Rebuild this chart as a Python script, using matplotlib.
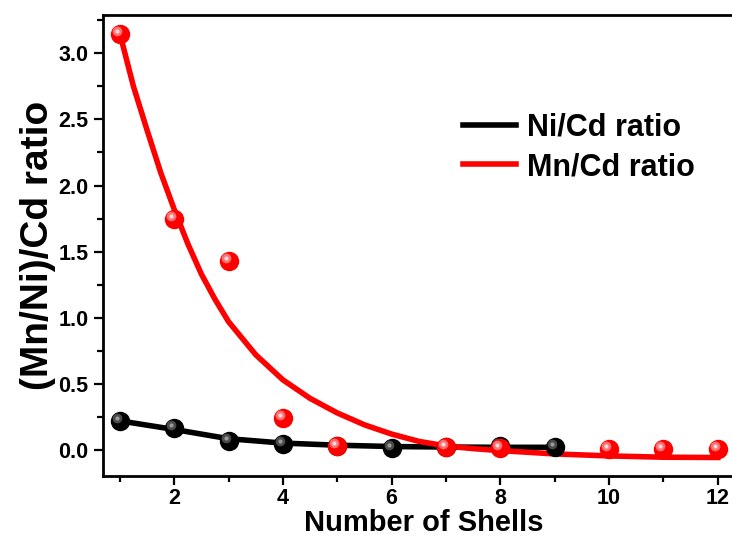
import matplotlib
matplotlib.use('Agg')
import matplotlib.pyplot as plt
from matplotlib.ticker import MultipleLocator, FormatStrFormatter
from matplotlib.transforms import offset_copy

plt.rcParams['font.family'] = ['Liberation Sans', 'DejaVu Sans']
plt.rcParams['font.weight'] = 'bold'

# measured points
shells_ni = [1, 2, 3, 4, 5, 6, 7, 8, 9]
ratio_ni = [0.22, 0.165, 0.07, 0.045, 0.03, 0.015, 0.02, 0.03, 0.02]
shells_mn = [1, 2, 3, 4, 5, 7, 8, 10, 11, 12]
ratio_mn = [3.15, 1.75, 1.43, 0.24, 0.03, 0.02, 0.015, 0.01, 0.005, 0.005]

# fitted curves
fit_x_ni = [1, 2, 3, 4, 5, 6, 7, 8, 9]
fit_y_ni = [0.22, 0.155, 0.085, 0.052, 0.036, 0.026, 0.022, 0.02, 0.02]
fit_x_mn = [1.0, 1.25, 1.5, 1.75, 2.0, 2.25, 2.5, 2.75, 3.0, 3.5, 4.0, 4.5, 5.0,
            5.5, 6.0, 6.5, 7.0, 7.5, 8.0, 9.0, 10.0, 11.0, 12.0]
fit_y_mn = [3.15, 2.75, 2.42, 2.1, 1.82, 1.56, 1.33, 1.14, 0.97, 0.72, 0.53,
            0.39, 0.28, 0.19, 0.12, 0.065, 0.03, 0.01, -0.005, -0.03, -0.045,
            -0.055, -0.057]

fig = plt.figure(figsize=(7.32, 5.4), dpi=100)
ax = fig.add_axes([103 / 732, 64 / 540, 642 / 732, 461 / 540])

ax.plot(fit_x_ni, fit_y_ni, color='black', lw=4, zorder=2, label='Ni/Cd ratio')
ax.plot(fit_x_mn, fit_y_mn, color='#ff0000', lw=4, zorder=3, label='Mn/Cd ratio')

# sphere-looking markers: base + offset highlight
hl = offset_copy(ax.transData, fig=fig, x=-3, y=3, units='dots')
ax.plot(shells_ni, ratio_ni, 'o', color='black', ms=14, mec='none', zorder=4)
ax.plot(shells_ni, ratio_ni, 'o', color='#4a4a4a', ms=7, mec='none', zorder=4, transform=hl)
ax.plot(shells_ni, ratio_ni, 'o', color='#9a9a9a', ms=3, mec='none', zorder=4, transform=hl)
ax.plot(shells_mn, ratio_mn, 'o', color='#ff0000', ms=14, mec='none', zorder=5)
ax.plot(shells_mn, ratio_mn, 'o', color='#ff7070', ms=7, mec='none', zorder=5, transform=hl)
ax.plot(shells_mn, ratio_mn, 'o', color='#ffdada', ms=3, mec='none', zorder=5, transform=hl)

ax.set_xlim(0.69, 12.5)
ax.set_ylim(-0.197, 3.29)
ax.xaxis.set_major_locator(MultipleLocator(2))
ax.xaxis.set_minor_locator(MultipleLocator(1))
ax.yaxis.set_major_locator(MultipleLocator(0.5))
ax.yaxis.set_minor_locator(MultipleLocator(0.25))
ax.yaxis.set_major_formatter(FormatStrFormatter('%.1f'))

for s in ax.spines.values():
    s.set_linewidth(2)
ax.tick_params(which='major', direction='out', length=6.5, width=1.6, labelsize=15.5, pad=4)
ax.tick_params(axis='x', which='major', pad=2)
ax.tick_params(which='minor', direction='out', length=4, width=1.6)
for lab in ax.get_xticklabels() + ax.get_yticklabels():
    lab.set_fontweight('bold')

ax.set_xlabel('Number of Shells', fontsize=21, fontweight='bold', labelpad=0)
ax.set_ylabel('(Mn/Ni)/Cd ratio', fontsize=28, fontweight='bold', labelpad=2)

ax.legend(loc='upper left', bbox_to_anchor=(463 / 732, 1 - 113 / 540),
          bbox_transform=fig.transFigure, frameon=False, fontsize=22,
          handlelength=1.75, handletextpad=0.35, labelspacing=0.3,
          borderpad=0, borderaxespad=0)

fig.savefig('out.png', dpi=100)
